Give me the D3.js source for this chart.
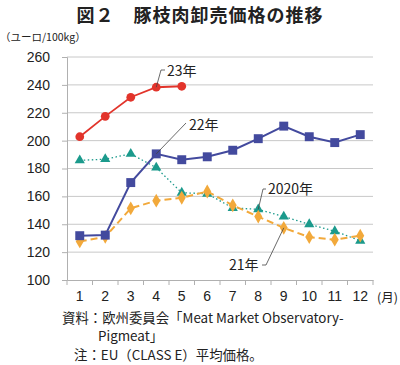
<!DOCTYPE html>
<html>
<head>
<meta charset="utf-8">
<script src="https://cdn.jsdelivr.net/npm/d3@7"></script>
<style>
  body { margin: 0; background: #fff; }
  text { font-family: "Liberation Sans", Arial, "Noto Sans CJK JP", sans-serif; fill: #222; }
</style>
</head>
<body>
<svg width="400" height="365"></svg>
<script>
// months and price series (euro / 100kg)
var months = [1, 2, 3, 4, 5, 6, 7, 8, 9, 10, 11, 12];
var yTicks = [100, 120, 140, 160, 180, 200, 220, 240, 260];
var y2020 = [185.8, 186.7, 190.5, 180.6, 162.6, 161.9, 151.7, 150.7, 145.5, 140, 135, 128.2];
var y2021 = [127.7, 131, 151.4, 156.9, 159, 163.5, 153.6, 145.5, 137.4, 130.8, 128.9, 131.8];
var y2022 = [131.8, 132.2, 169.9, 190.5, 186.3, 188.4, 193.1, 201.4, 210.4, 202.8, 198.6, 204.3];
var y2023 = [202.8, 217.4, 231.1, 238.3, 239];

var svg = d3.select('svg');
var jp = '"Noto Sans CJK JP", "Liberation Sans", sans-serif';

var x = d3.scaleBand().domain(months).range([67, 373]);
var y = d3.scaleLinear().domain([100, 260]).range([280, 57]);
function cx(m) { return x(m) + x.bandwidth() / 2; }

// title
svg.append('text').attr('x', 200).attr('y', 22).
    attr('text-anchor', 'middle').attr('font-size', '18px').attr('font-weight', 'bold').
    style('font-family', jp).style('letter-spacing', '1px').
    text('図２　豚枝肉卸売価格の推移');

svg.append('text').attr('x', 0).attr('y', 41).attr('font-size', '10.5px').
    style('font-family', jp).text('（ユーロ/100kg）');

// gridlines
svg.append('g').selectAll('line').data(yTicks.slice(1)).enter().append('line').
    attr('x1', 67).attr('x2', 373).
    attr('y1', function (d) { return y(d); }).attr('y2', function (d) { return y(d); }).
    attr('stroke', '#c8c8c8').attr('stroke-width', 1);

// y axis
var yAxis = svg.append('g').attr('transform', 'translate(67,0)').
    call(d3.axisLeft(y).tickValues(yTicks).tickSize(5).tickPadding(12));
yAxis.select('.domain').attr('stroke', '#b0b0b0');
yAxis.selectAll('.tick line').attr('stroke', '#b0b0b0');
yAxis.selectAll('.tick text').attr('font-size', '14px').attr('fill', '#222').
    style('font-family', '"Liberation Sans", Arial, sans-serif');

// x axis
var xAxis = svg.append('g').attr('transform', 'translate(0,280)').
    call(d3.axisBottom(x).tickSize(0).tickPadding(11));
xAxis.select('.domain').attr('stroke', '#b0b0b0');
xAxis.selectAll('.tick text').attr('font-size', '14px').attr('fill', '#222').
    style('font-family', '"Liberation Sans", Arial, sans-serif');
svg.append('g').selectAll('line').data(months.concat([13])).enter().append('line').
    attr('x1', function (d) { return d > 12 ? 373 : x(d); }).
    attr('x2', function (d) { return d > 12 ? 373 : x(d); }).
    attr('y1', 280).attr('y2', 285).attr('stroke', '#b0b0b0');
svg.append('text').attr('x', 398).attr('y', 302).attr('font-size', '12.5px').
    attr('text-anchor', 'end').style('font-family', jp).text('(月)');

// series
var series = [
    { name: '2020', vals: y2020, color: '#1b9a8c', width: 1.3, dash: '1.5,2.5', sym: d3.symbolTriangle, size: 45 },
    { name: '2021', vals: y2021, color: '#f2a93b', width: 2, dash: '7,4', sym: d3.symbolDiamond, size: 55 },
    { name: '2022', vals: y2022, color: '#434a9e', width: 2, dash: null, sym: d3.symbolSquare, size: 80 },
    { name: '2023', vals: y2023, color: '#e2342b', width: 1.8, dash: null, sym: d3.symbolCircle, size: 60 }
];
var line = d3.line().x(function (d, i) { return cx(months[i]); }).y(function (d) { return y(d); });

series.forEach(function (s) {
    svg.append('path').datum(s.vals).attr('d', line).attr('fill', 'none').
        attr('stroke', s.color).attr('stroke-width', s.width).
        attr('stroke-dasharray', s.dash);
    svg.append('g').selectAll('path').data(s.vals).enter().append('path').
        attr('d', d3.symbol().type(s.sym).size(s.size)).
        attr('transform', function (d, i) { return 'translate(' + cx(months[i]) + ',' + y(d) + ')'; }).
        attr('fill', s.color);
});

// series labels with leader lines
function label(m, v, pts, tx, ty, txt) {
    var p = [[cx(m), y(v)]].concat(pts);
    svg.append('path').attr('d', d3.line()(p)).attr('fill', 'none').
        attr('stroke', '#444').attr('stroke-width', 0.8);
    svg.append('text').attr('x', tx).attr('y', ty).attr('font-size', '14px').
        style('font-family', jp).text(txt);
}
label(4, y2023[3], [[161, 70], [165, 70]], 167, 76, '23年');
label(4, y2022[3], [[186, 123]], 189, 130, '22年');
label(8, y2020[7], [[263, 189], [266, 189]], 268, 194, '2020年');
label(9, y2021[8], [[266, 265], [262, 265]], 229, 270, '21年');

// notes
var notes = svg.append('g').attr('font-size', '13.4px').style('font-family', jp);
notes.append('text').attr('x', 62).attr('y', 323).style('font-family', jp).
    text('資料：欧州委員会「Meat Market Observatory-');
notes.append('text').attr('x', 98).attr('y', 341).style('font-family', jp).
    text('Pigmeat」');
notes.append('text').attr('x', 74).attr('y', 360).style('font-family', jp).
    text('注：EU（CLASS E）平均価格。');
</script>
</body>
</html>
